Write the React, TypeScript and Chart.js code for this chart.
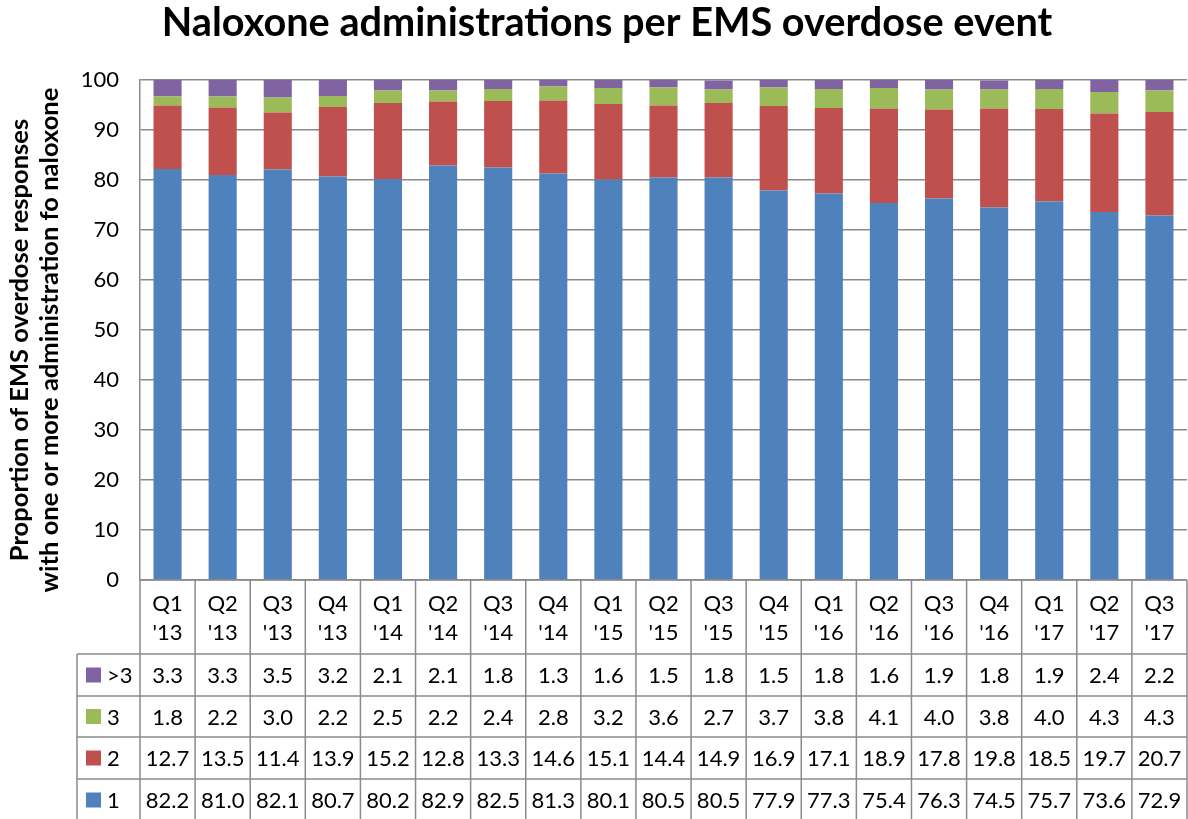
import React, { useEffect, useRef } from "react";
import { Chart, registerables } from "chart.js";
Chart.register(...registerables);

const quarterLabels = ["Q1", "Q2", "Q3", "Q4", "Q1", "Q2", "Q3", "Q4", "Q1", "Q2", "Q3", "Q4", "Q1", "Q2", "Q3", "Q4", "Q1", "Q2", "Q3"];
const yearLabels = ["'13", "'13", "'13", "'13", "'14", "'14", "'14", "'14", "'15", "'15", "'15", "'15", "'16", "'16", "'16", "'16", "'17", "'17", "'17"];
const categories = quarterLabels.map((q, i) => q + " " + yearLabels[i]);

const seriesOne = [82.2, 81.0, 82.1, 80.7, 80.2, 82.9, 82.5, 81.3, 80.1, 80.5, 80.5, 77.9, 77.3, 75.4, 76.3, 74.5, 75.7, 73.6, 72.9];
const seriesTwo = [12.7, 13.5, 11.4, 13.9, 15.2, 12.8, 13.3, 14.6, 15.1, 14.4, 14.9, 16.9, 17.1, 18.9, 17.8, 19.8, 18.5, 19.7, 20.7];
const seriesThree = [1.8, 2.2, 3.0, 2.2, 2.5, 2.2, 2.4, 2.8, 3.2, 3.6, 2.7, 3.7, 3.8, 4.1, 4.0, 3.8, 4.0, 4.3, 4.3];
const seriesMore = [3.3, 3.3, 3.5, 3.2, 2.1, 2.1, 1.8, 1.3, 1.6, 1.5, 1.8, 1.5, 1.8, 1.6, 1.9, 1.8, 1.9, 2.4, 2.2];
const seriesNames = ["1", "2", "3", ">3"];

const yMin = 0;
const yMax = 100;
const yStep = 10;

const titleText = "Naloxone administrations per EMS overdose event";
const yTitleLines = ["Proportion of EMS overdose responses", "with one or more administration fo naloxone"];

const COLORS = ["#4F81BD", "#C0504D", "#9BBB59", "#8064A2"];
const GRID = "#8a8a8a";
const FONT = "Lato, 'Open Sans', sans-serif";
const W = 1188;
const H = 819;

function fitFont(ctx: CanvasRenderingContext2D, text: string, weight: string, target: number, start: number) {
  ctx.font = `${weight} ${start}px ${FONT}`;
  const w = ctx.measureText(text).width;
  return start * (target / w);
}

const overlayPlugin = {
  id: "overlay",
  afterDraw(chart: any) {
    const ctx: CanvasRenderingContext2D = chart.ctx;
    const area = chart.chartArea;
    const xs = chart.scales.x;
    const n = categories.length;
    ctx.save();

    // Title
    const tSize = fitFont(ctx, titleText, "bold", 891, 32);
    ctx.font = `bold ${tSize}px ${FONT}`;
    ctx.fillStyle = "#000";
    ctx.textAlign = "center";
    ctx.textBaseline = "alphabetic";
    ctx.fillText(titleText, 607, 36);

    // Y axis title
    const ySize = fitFont(ctx, yTitleLines[1], "bold", 505, 22);
    ctx.font = `bold ${ySize}px ${FONT}`;
    const baselines = [28, 58];
    yTitleLines.forEach((line, i) => {
      ctx.save();
      ctx.translate(baselines[i], 340);
      ctx.rotate(-Math.PI / 2);
      ctx.textAlign = "center";
      ctx.textBaseline = "alphabetic";
      ctx.fillText(line, 0, 0);
      ctx.restore();
    });

    // Table
    const bounds: number[] = [];
    for (let i = 0; i <= n; i++) {
      if (i === 0) bounds.push(area.left);
      else if (i === n) bounds.push(area.right);
      else bounds.push((xs.getPixelForValue(i - 1) + xs.getPixelForValue(i)) / 2);
    }
    const rowTops = [654, 696, 737, 779, 821];
    const legendLeft = 77;
    ctx.strokeStyle = GRID;
    ctx.lineWidth = 1.5;
    ctx.beginPath();
    bounds.forEach((x) => {
      ctx.moveTo(x, area.bottom);
      ctx.lineTo(x, H);
    });
    ctx.moveTo(area.left, area.bottom);
    ctx.lineTo(area.right, area.bottom);
    rowTops.forEach((y) => {
      ctx.moveTo(legendLeft, y);
      ctx.lineTo(area.right, y);
    });
    ctx.moveTo(legendLeft, rowTops[0]);
    ctx.lineTo(legendLeft, H);
    ctx.stroke();

    ctx.font = `22px ${FONT}`;
    ctx.fillStyle = "#000";
    ctx.textAlign = "center";
    ctx.textBaseline = "alphabetic";
    for (let i = 0; i < n; i++) {
      const cx = (bounds[i] + bounds[i + 1]) / 2;
      ctx.fillText(quarterLabels[i], cx, 611);
      ctx.fillText(yearLabels[i], cx, 640);
    }
    const rows = [
      { name: seriesNames[3], data: seriesMore, color: COLORS[3] },
      { name: seriesNames[2], data: seriesThree, color: COLORS[2] },
      { name: seriesNames[1], data: seriesTwo, color: COLORS[1] },
      { name: seriesNames[0], data: seriesOne, color: COLORS[0] },
    ];
    rows.forEach((row, r) => {
      const mid = (rowTops[r] + rowTops[r + 1]) / 2;
      const base = mid + 8;
      ctx.fillStyle = row.color;
      ctx.fillRect(86, mid - 7.5, 15, 15);
      ctx.fillStyle = "#000";
      ctx.textAlign = "left";
      ctx.fillText(row.name, 107, base);
      ctx.textAlign = "center";
      row.data.forEach((v, i) => {
        const cx = (bounds[i] + bounds[i + 1]) / 2;
        ctx.fillText(v.toFixed(1), cx, base);
      });
    });

    ctx.restore();
  },
};

export default function App() {
  const ref = useRef<HTMLCanvasElement | null>(null);
  useEffect(() => {
    if (!ref.current) return;
    const chart = new Chart(ref.current, {
      type: "bar",
      data: {
        labels: categories,
        datasets: [
          { label: seriesNames[0], data: seriesOne, backgroundColor: COLORS[0] },
          { label: seriesNames[1], data: seriesTwo, backgroundColor: COLORS[1] },
          { label: seriesNames[2], data: seriesThree, backgroundColor: COLORS[2] },
          { label: seriesNames[3], data: seriesMore, backgroundColor: COLORS[3] },
        ],
      },
      options: {
        responsive: false,
        animation: false,
        devicePixelRatio: 1,
        layout: { padding: { top: 80, bottom: H - 580, left: 0, right: 1 } },
        datasets: { bar: { categoryPercentage: 1, barPercentage: 0.51, borderWidth: 0 } },
        plugins: {
          legend: { display: false },
          title: { display: false },
          tooltip: { enabled: false },
        },
        scales: {
          x: {
            type: "category",
            stacked: true,
            display: false,
          },
          y: {
            stacked: true,
            min: yMin,
            max: yMax,
            afterFit: (scale: any) => {
              scale.width = 140;
            },
            ticks: {
              stepSize: yStep,
              color: "#000",
              font: { family: FONT, size: 22 },
              padding: 21,
            },
            grid: { color: GRID, lineWidth: 1.5, drawTicks: false },
            border: { display: true, color: GRID, width: 1.5 },
          },
        },
      },
      plugins: [overlayPlugin],
    } as any);
    return () => chart.destroy();
  }, []);
  return (
    <div style={{ position: "absolute", left: 0, top: 0, width: W, height: H, background: "#fff" }}>
      <canvas ref={ref} width={W} height={H} style={{ display: "block" }} />
    </div>
  );
}
